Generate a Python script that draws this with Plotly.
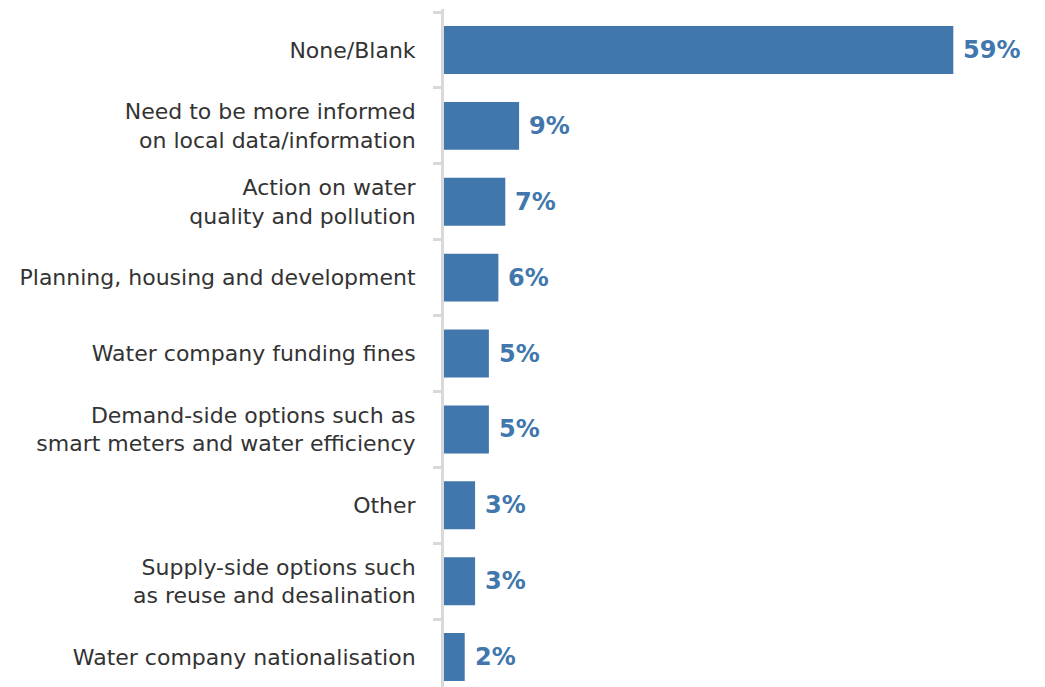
import plotly.graph_objects as go

categories = [
    "None/Blank",
    "Need to be more informed<br>on local data/information",
    "Action on water<br>quality and pollution",
    "Planning, housing and development",
    "Water company funding fines",
    "Demand-side options such as<br>smart meters and water efficiency",
    "Other",
    "Supply-side options such<br>as reuse and desalination",
    "Water company nationalisation",
]
values = [59.0, 8.7, 7.1, 6.3, 5.2, 5.2, 3.6, 3.6, 2.4]
value_labels = ["59%", "9%", "7%", "6%", "5%", "5%", "3%", "3%", "2%"]

BLUE = "#4177ad"
FONT = "DejaVu Sans"

fig = go.Figure()
fig.add_trace(go.Bar(
    x=values,
    y=categories,
    orientation="h",
    marker=dict(color=BLUE, line=dict(width=0)),
    hoverinfo="skip",
))

for cat, v, lab in zip(categories, values, value_labels):
    fig.add_annotation(
        x=v, y=cat, text=lab, showarrow=False,
        xanchor="left", yanchor="middle", xshift=8,
        font=dict(family=FONT, size=24, color=BLUE, weight="bold"),
    )

fig.update_layout(
    template="none",
    width=1045, height=687,
    margin=dict(l=436, r=22, t=1, b=0),
    paper_bgcolor="white", plot_bgcolor="white",
    bargap=0.368,
    showlegend=False,
    font=dict(family=FONT, size=22, color="#333333"),
)
fig.update_xaxes(
    range=[0, 68], visible=False, showgrid=False, zeroline=False,
    automargin=False,
)
fig.update_yaxes(
    type="category",
    range=[8.50, -0.54],
    automargin=False,
    showline=True, linecolor="#d9d9d9", linewidth=3,
    ticks="outside", tickson="boundaries", ticklen=8,
    tickcolor="#d9d9d9", tickwidth=3,
    ticklabelstandoff=21,
    showgrid=False, zeroline=False,
    tickfont=dict(family=FONT, size=22, color="#333333"),
)

fig.write_html("out.html")
